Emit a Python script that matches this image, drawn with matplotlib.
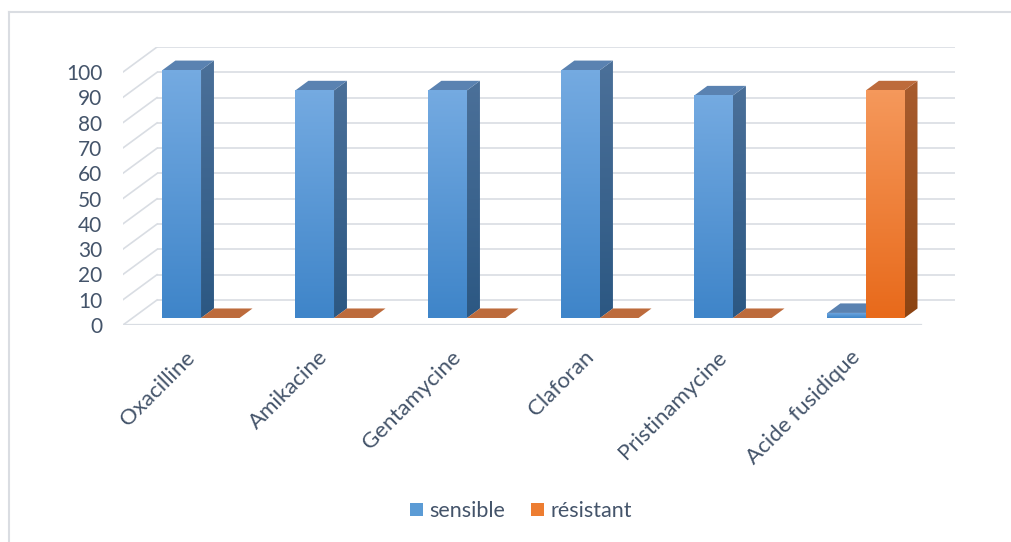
'''
Sensibilité / résistance aux antibiotiques
Reproduction d'un histogramme 3D style Excel avec matplotlib (faces dessinées en 2D)
'''

import numpy as np
import matplotlib.pyplot as plt
from matplotlib.patches import Polygon, Patch
from matplotlib.colors import LinearSegmentedColormap
from matplotlib.lines import Line2D

categories = ['Oxacilline', 'Amikacine', 'Gentamycine', 'Claforan',
              'Pristinamycine', 'Acide fusidique']
sensible = [98, 90, 90, 98, 88, 2]
resistant = [0, 0, 0, 0, 0, 90]
series_names = ['sensible', 'résistant']
y_ticks = list(range(0, 101, 10))

# profondeur du "sol" (unités de données) et position des barres dans cette profondeur
DEPTH_X = 0.256
DEPTH_Y = 9.9
BAR_FRONT = 0.28
BAR_DEPTH = 0.38
BAR_WIDTH = 0.29
BAR_SHIFT = 0.015

TEXT_COLOR = '#44546a'
GRID_COLOR = '#d9dde3'

# couleurs (haut, bas) pour chaque face
BLUE = {'front': ('#74aae1', '#3f85c9'), 'side': ('#4b7099', '#2c5883'),
        'top': '#5a82b1'}
ORANGE = {'front': ('#f5985b', '#e86a1b'), 'side': ('#a85c2e', '#8c4413'),
          'top': '#bd6b3c'}


def fill_gradient(ax, verts, top_color, bottom_color, zorder):
    """Remplit un polygone avec un dégradé vertical."""
    poly = Polygon(verts, closed=True, facecolor='none', edgecolor='none',
                   zorder=zorder)
    ax.add_patch(poly)
    xs = [v[0] for v in verts]
    ys = [v[1] for v in verts]
    cmap = LinearSegmentedColormap.from_list('g', [bottom_color, top_color])
    grad = np.linspace(1, 0, 64).reshape(-1, 1)
    img = ax.imshow(grad, cmap=cmap, aspect='auto', interpolation='bilinear',
                    extent=(min(xs), max(xs), min(ys), max(ys)), zorder=zorder)
    img.set_clip_path(poly)


def draw_bar(ax, x0, h, colors, zorder):
    """Dessine une barre 3D (face avant, côté, dessus)."""
    ox, oy = DEPTH_X * BAR_FRONT + BAR_SHIFT, DEPTH_Y * BAR_FRONT
    dx, dy = DEPTH_X * BAR_DEPTH, DEPTH_Y * BAR_DEPTH
    xl, xr = x0 + ox, x0 + BAR_WIDTH + ox
    top = [(xl, oy + h), (xr, oy + h), (xr + dx, oy + h + dy), (xl + dx, oy + h + dy)]
    if h > 0:
        side = [(xr, oy), (xr + dx, oy + dy), (xr + dx, oy + h + dy), (xr, oy + h)]
        front = [(xl, oy), (xr, oy), (xr, oy + h), (xl, oy + h)]
        fill_gradient(ax, side, *colors['side'], zorder=zorder)
        fill_gradient(ax, front, *colors['front'], zorder=zorder + 0.2)
    ax.add_patch(Polygon(top, closed=True, facecolor=colors['top'],
                         edgecolor='none', zorder=zorder + 0.1))


def draw_walls(ax, n):
    """Quadrillage du mur du fond, du mur gauche et bord avant du sol."""
    for v in y_ticks:
        ax.plot([DEPTH_X, n + DEPTH_X], [v + DEPTH_Y, v + DEPTH_Y],
                color=GRID_COLOR, lw=1.2, zorder=1, solid_capstyle='butt')
        ax.plot([0, DEPTH_X], [v, v + DEPTH_Y], color=GRID_COLOR, lw=1.2, zorder=1)
    ax.plot([0, n], [0, 0], color=GRID_COLOR, lw=1.6, zorder=1)


def main():
    plt.rcParams['font.family'] = ['Lato', 'DejaVu Sans']
    W, H = 1011, 542
    fig = plt.figure(figsize=(W / 100, H / 100), dpi=100)

    # cadre gris clair (bord gauche et haut visibles)
    fig.add_artist(Line2D([9 / W, 9 / W], [0, 1 - 12 / H], color='#dadde2',
                          lw=1.5, transform=fig.transFigure))
    fig.add_artist(Line2D([9 / W, 1], [1 - 12 / H, 1 - 12 / H], color='#dadde2',
                          lw=1.5, transform=fig.transFigure))

    ax = fig.add_axes([123 / W, (H - 325) / H, (955 - 123) / W, (325 - 47) / H])
    n = len(categories)
    draw_walls(ax, n)

    z = 3
    for i in range(n):
        draw_bar(ax, i + 0.5 - BAR_WIDTH, sensible[i], BLUE, z)
        draw_bar(ax, i + 0.5, resistant[i], ORANGE, z + 1)
        z += 2

    ax.set_xlim(0, n + DEPTH_X)
    ax.set_ylim(0, 100 + DEPTH_Y)
    for s in ax.spines.values():
        s.set_visible(False)
    ax.set_yticks(y_ticks)
    ax.set_yticklabels([str(t) for t in y_ticks], fontsize=15, color=TEXT_COLOR)
    ax.set_xticks([i + 0.5 + DEPTH_X * BAR_FRONT for i in range(n)])
    ax.set_xticklabels(categories, rotation=45, ha='right', va='top',
                       fontsize=16, color=TEXT_COLOR)
    ax.tick_params(axis='y', length=0, pad=15)
    ax.tick_params(axis='x', length=0, pad=16)

    handles = [Patch(facecolor='#5b9bd5', label=series_names[0]),
               Patch(facecolor='#ed7d31', label=series_names[1])]
    fig.legend(handles=handles, loc='center', bbox_to_anchor=(0.515, (H - 511) / H),
               ncol=2, frameon=False, fontsize=15.5, labelcolor=TEXT_COLOR,
               handlelength=0.6, handleheight=0.6, handletextpad=0.3,
               columnspacing=1.2)

    fig.savefig('out.png', dpi=100)


if __name__ == "__main__":
    main()
